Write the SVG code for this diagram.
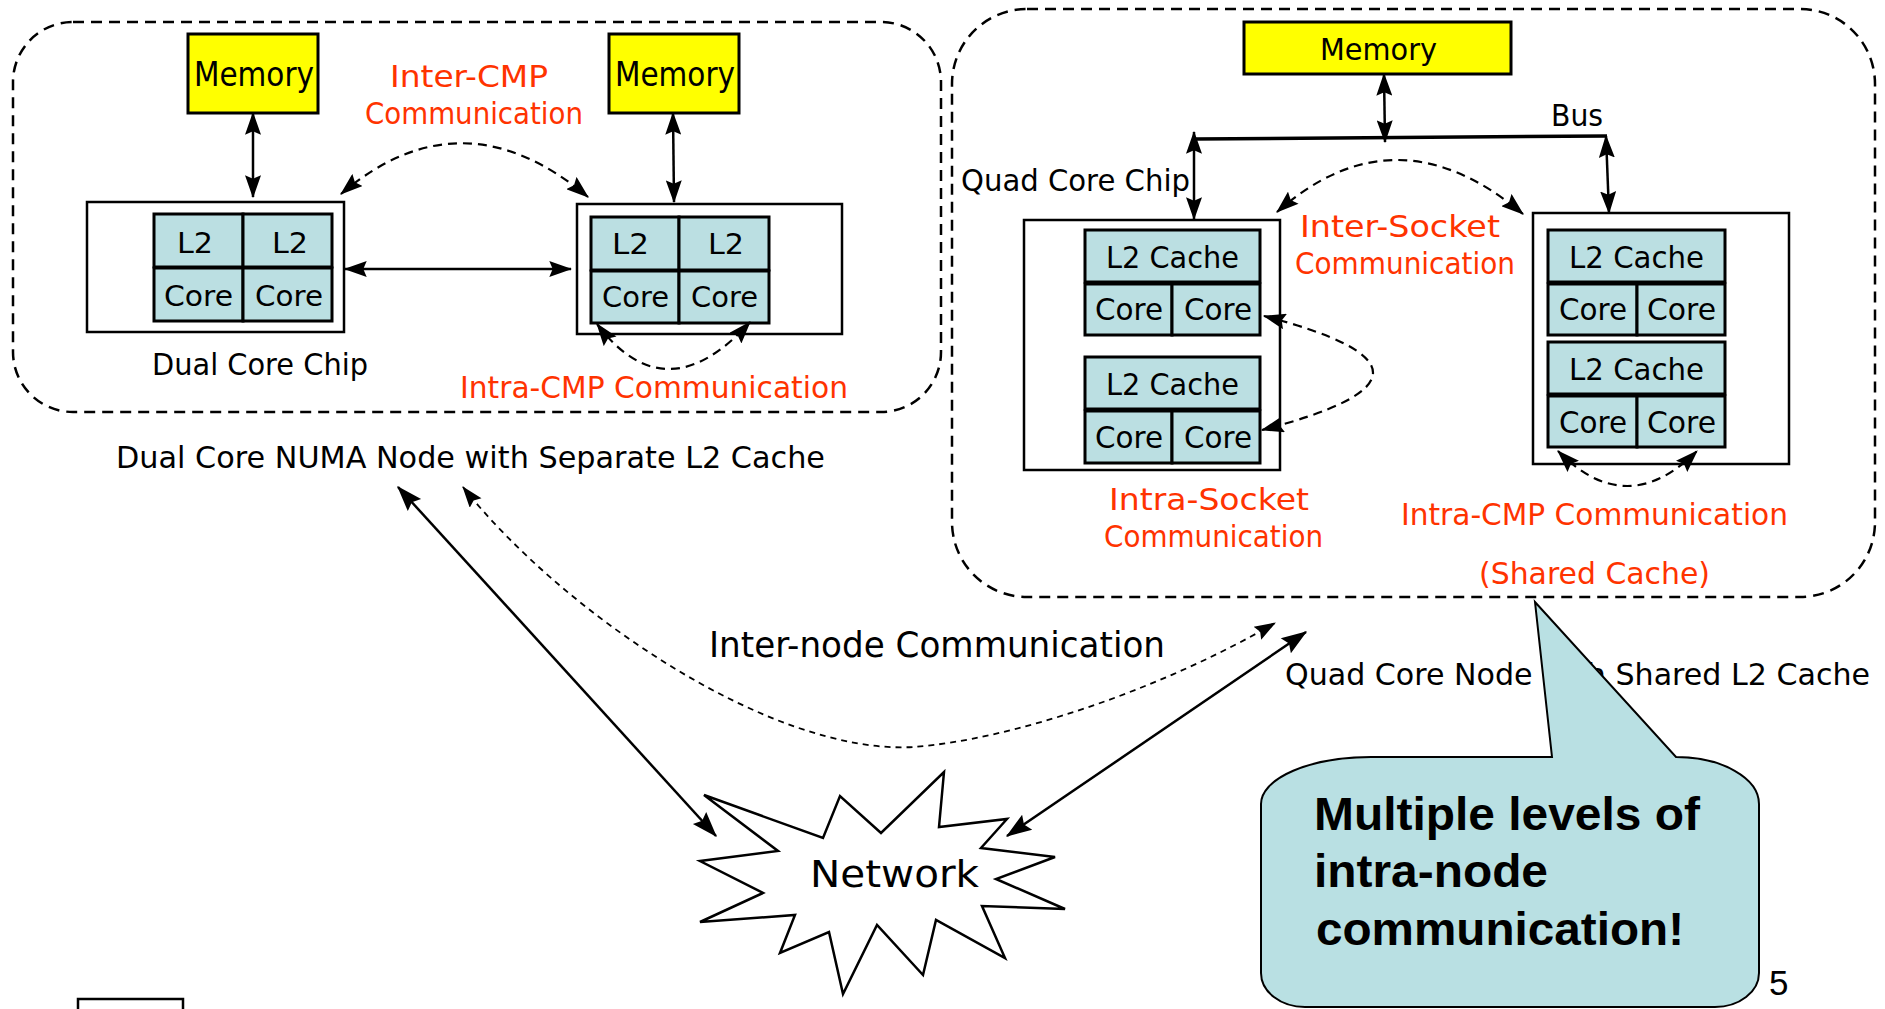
<svg xmlns="http://www.w3.org/2000/svg" width="1885" height="1009" viewBox="0 0 1885 1009">
  <defs>
    <style>
      .t { font-family: "DejaVu Sans", "Liberation Sans", sans-serif; fill: #000; }
      .red { fill: #FF3300; }
      .grp { fill: none; stroke: #000; stroke-width: 2.5; stroke-dasharray: 11 7; }
      .chip { fill: #fff; stroke: #000; stroke-width: 2.5; }
      .cell { fill: #BBDFE2; stroke: #000; stroke-width: 3; }
      .mem { fill: #FFFF00; stroke: #000; stroke-width: 3; }
      .solid { fill: none; stroke: #000; stroke-width: 2.5; }
      .dash { fill: none; stroke: #000; stroke-width: 2.2; stroke-dasharray: 9 6; }
      .thin { fill: none; stroke: #000; stroke-width: 1.8; stroke-dasharray: 6 5; }
      .bubble { fill: #B9E0E3; stroke: #000; stroke-width: 2; }
      .bold { font-family: "Liberation Sans", Arial, sans-serif; font-weight: bold; font-size: 47px; fill: #000; }
    </style>
    <marker id="ah" markerUnits="userSpaceOnUse" viewBox="0 0 20 14" markerWidth="23" markerHeight="16" refX="19" refY="7" orient="auto-start-reverse">
      <path d="M0,0 L20,7 L0,14 L3,7 Z" fill="#000"/>
    </marker>
    <marker id="ahL" markerUnits="userSpaceOnUse" viewBox="0 0 20 14" markerWidth="29" markerHeight="18" refX="19" refY="7" orient="auto-start-reverse">
      <path d="M0,0 L20,7 L0,14 L3,7 Z" fill="#000"/>
    </marker>
    <marker id="ahs" markerUnits="userSpaceOnUse" viewBox="0 0 20 14" markerWidth="23" markerHeight="15" refX="19" refY="7" orient="auto-start-reverse">
      <path d="M0,0 L20,7 L0,14 L3,7 Z" fill="#000"/>
    </marker>
  </defs>

  <rect width="1885" height="1009" fill="#fff"/>

  <!-- Dual core NUMA node (left) -->
  <g id="dual-node">
    <rect class="grp" x="13" y="22" width="928" height="390" rx="60" ry="60"/>
    <text class="t" x="152" y="375" font-size="30" textLength="216" lengthAdjust="spacingAndGlyphs">Dual Core Chip</text>
    <text class="t red" x="460" y="398" font-size="30" textLength="388" lengthAdjust="spacingAndGlyphs">Intra-CMP Communication</text>
    <text class="t red" x="390" y="87" font-size="30" textLength="158" lengthAdjust="spacingAndGlyphs">Inter-CMP</text>
    <text class="t red" x="365" y="124" font-size="31" textLength="218" lengthAdjust="spacingAndGlyphs">Communication</text>
  </g>
  <text class="t" x="116" y="468" font-size="30" textLength="709" lengthAdjust="spacingAndGlyphs">Dual Core NUMA Node with Separate L2 Cache</text>

  <g id="dual-mem-a">
    <rect class="mem" x="188" y="34" width="130" height="79"/>
    <text class="t" x="194" y="86" font-size="33" textLength="120" lengthAdjust="spacingAndGlyphs">Memory</text>
  </g>
  <g id="dual-mem-b">
    <rect class="mem" x="609" y="34" width="130" height="79"/>
    <text class="t" x="615" y="86" font-size="33" textLength="120" lengthAdjust="spacingAndGlyphs">Memory</text>
  </g>

  <g id="dual-chip-a">
    <rect class="chip" x="87" y="202" width="257" height="130"/>
    <rect class="cell" x="154" y="214" width="89" height="53"/>
    <rect class="cell" x="243" y="214" width="89" height="53"/>
    <rect class="cell" x="154" y="268" width="89" height="53"/>
    <rect class="cell" x="243" y="268" width="89" height="53"/>
    <text class="t" x="177" y="253" font-size="29" textLength="36" lengthAdjust="spacingAndGlyphs">L2</text>
    <text class="t" x="272" y="253" font-size="29" textLength="36" lengthAdjust="spacingAndGlyphs">L2</text>
    <text class="t" x="164" y="306" font-size="29" textLength="69" lengthAdjust="spacingAndGlyphs">Core</text>
    <text class="t" x="255" y="306" font-size="29" textLength="68" lengthAdjust="spacingAndGlyphs">Core</text>
  </g>
  <g id="dual-chip-b">
    <rect class="chip" x="577" y="204" width="265" height="130"/>
    <rect class="cell" x="591" y="217" width="88" height="53"/>
    <rect class="cell" x="679" y="217" width="90" height="53"/>
    <rect class="cell" x="591" y="271" width="88" height="52"/>
    <rect class="cell" x="679" y="271" width="90" height="52"/>
    <text class="t" x="612" y="254" font-size="29" textLength="37" lengthAdjust="spacingAndGlyphs">L2</text>
    <text class="t" x="708" y="254" font-size="29" textLength="36" lengthAdjust="spacingAndGlyphs">L2</text>
    <text class="t" x="602" y="307" font-size="29" textLength="67" lengthAdjust="spacingAndGlyphs">Core</text>
    <text class="t" x="691" y="307" font-size="29" textLength="67" lengthAdjust="spacingAndGlyphs">Core</text>
  </g>

  <!-- Quad core node (right) -->
  <g id="quad-node">
    <rect class="grp" x="952" y="9" width="923" height="588" rx="75" ry="75"/>
    <text class="t" x="1551" y="126" font-size="30" textLength="52" lengthAdjust="spacingAndGlyphs">Bus</text>
    <text class="t" x="961" y="191" font-size="30" textLength="229" lengthAdjust="spacingAndGlyphs">Quad Core Chip</text>
    <text class="t red" x="1300" y="237" font-size="30" textLength="200" lengthAdjust="spacingAndGlyphs">Inter-Socket</text>
    <text class="t red" x="1295" y="274" font-size="31" textLength="220" lengthAdjust="spacingAndGlyphs">Communication</text>
    <text class="t red" x="1109" y="510" font-size="30" textLength="200" lengthAdjust="spacingAndGlyphs">Intra-Socket</text>
    <text class="t red" x="1104" y="547" font-size="31" textLength="219" lengthAdjust="spacingAndGlyphs">Communication</text>
    <text class="t red" x="1401" y="525" font-size="30" textLength="387" lengthAdjust="spacingAndGlyphs">Intra-CMP Communication</text>
    <text class="t red" x="1479" y="584" font-size="30" textLength="231" lengthAdjust="spacingAndGlyphs">(Shared Cache)</text>
  </g>

  <g id="quad-mem">
    <rect class="mem" x="1244" y="22" width="267" height="52"/>
    <text class="t" x="1320" y="60" font-size="31" textLength="117" lengthAdjust="spacingAndGlyphs">Memory</text>
  </g>

  <g id="quad-chip-a">
    <rect class="chip" x="1024" y="220" width="256" height="250"/>
    <rect class="cell" x="1085" y="230" width="175" height="52"/>
    <rect class="cell" x="1085" y="284" width="87" height="51"/>
    <rect class="cell" x="1172" y="284" width="88" height="51"/>
    <rect class="cell" x="1085" y="357" width="175" height="52"/>
    <rect class="cell" x="1085" y="411" width="87" height="52"/>
    <rect class="cell" x="1172" y="411" width="88" height="52"/>
    <text class="t" x="1106" y="268" font-size="30" textLength="133" lengthAdjust="spacingAndGlyphs">L2 Cache</text>
    <text class="t" x="1095" y="320" font-size="30" textLength="68" lengthAdjust="spacingAndGlyphs">Core</text>
    <text class="t" x="1184" y="320" font-size="30" textLength="68" lengthAdjust="spacingAndGlyphs">Core</text>
    <text class="t" x="1106" y="395" font-size="30" textLength="133" lengthAdjust="spacingAndGlyphs">L2 Cache</text>
    <text class="t" x="1095" y="448" font-size="30" textLength="68" lengthAdjust="spacingAndGlyphs">Core</text>
    <text class="t" x="1184" y="448" font-size="30" textLength="68" lengthAdjust="spacingAndGlyphs">Core</text>
  </g>
  <g id="quad-chip-b">
    <rect class="chip" x="1533" y="213" width="256" height="251"/>
    <rect class="cell" x="1548" y="230" width="177" height="52"/>
    <rect class="cell" x="1548" y="284" width="89" height="51"/>
    <rect class="cell" x="1637" y="284" width="88" height="51"/>
    <rect class="cell" x="1548" y="342" width="177" height="52"/>
    <rect class="cell" x="1548" y="396" width="89" height="51"/>
    <rect class="cell" x="1637" y="396" width="88" height="51"/>
    <text class="t" x="1569" y="268" font-size="30" textLength="135" lengthAdjust="spacingAndGlyphs">L2 Cache</text>
    <text class="t" x="1559" y="320" font-size="30" textLength="68" lengthAdjust="spacingAndGlyphs">Core</text>
    <text class="t" x="1647" y="320" font-size="30" textLength="69" lengthAdjust="spacingAndGlyphs">Core</text>
    <text class="t" x="1569" y="380" font-size="30" textLength="135" lengthAdjust="spacingAndGlyphs">L2 Cache</text>
    <text class="t" x="1559" y="433" font-size="30" textLength="68" lengthAdjust="spacingAndGlyphs">Core</text>
    <text class="t" x="1647" y="433" font-size="30" textLength="69" lengthAdjust="spacingAndGlyphs">Core</text>
  </g>

  <g id="network">
    <polygon fill="#fff" stroke="#000" stroke-width="2.5" stroke-linejoin="miter"
      points="944,772 939,827 1007,819 981,848 1055,857 996,879 1065,909 982,906 1005,958 936,920 923,975 877,925 843,994 829,932 780,953 795,915 700,922 763,893 700,861 778,851 704,795 823,838 840,796 881,833"/>
    <text class="t" x="810" y="887" font-size="38" textLength="169" lengthAdjust="spacingAndGlyphs">Network</text>
  </g>

  <text class="t" x="709" y="657" font-size="36" textLength="456" lengthAdjust="spacingAndGlyphs">Inter-node Communication</text>
  <text class="t" x="1285" y="685" font-size="30" textLength="585" lengthAdjust="spacingAndGlyphs">Quad Core Node with Shared L2 Cache</text>

  <!-- Connectors -->
  <g id="connectors">
    <line class="solid" x1="253" y1="113" x2="253" y2="197" marker-start="url(#ah)" marker-end="url(#ah)"/>
    <line class="solid" x1="673" y1="113" x2="674" y2="202" marker-start="url(#ah)" marker-end="url(#ah)"/>
    <line class="solid" x1="345" y1="269" x2="571" y2="269" marker-start="url(#ah)" marker-end="url(#ah)"/>
    <path class="dash" d="M341,194 Q462,91 588,197" marker-start="url(#ah)" marker-end="url(#ah)"/>
    <path class="dash" d="M597,324 Q666,415 750,322" marker-start="url(#ah)" marker-end="url(#ah)"/>

    <line x1="1194" y1="139" x2="1607" y2="136" stroke="#000" stroke-width="3.5"/>
    <line class="solid" x1="1384" y1="74" x2="1385" y2="142" marker-start="url(#ah)" marker-end="url(#ah)"/>
    <line class="solid" x1="1194" y1="132" x2="1194" y2="219" marker-start="url(#ah)" marker-end="url(#ah)"/>
    <line class="solid" x1="1606" y1="136" x2="1609" y2="213" marker-start="url(#ah)" marker-end="url(#ah)"/>
    <path class="dash" d="M1277,212 Q1396,107 1523,214" marker-start="url(#ah)" marker-end="url(#ah)"/>
    <path class="dash" d="M1264,316 Q1483,373 1262,430" marker-start="url(#ah)" marker-end="url(#ah)"/>
    <path class="dash" d="M1558,451 Q1627,521 1697,451" marker-start="url(#ah)" marker-end="url(#ah)"/>

    <line class="solid" x1="398" y1="487" x2="716" y2="836" stroke-width="2.2" marker-start="url(#ahL)" marker-end="url(#ahL)"/>
    <line class="solid" x1="1007" y1="836" x2="1306" y2="632" stroke-width="2.2" marker-start="url(#ahL)" marker-end="url(#ahL)"/>
    <path class="thin" d="M463,487 C560,610 770,755 913,747 C1010,740 1160,690 1275,623" marker-start="url(#ahs)" marker-end="url(#ahs)"/>
  </g>

  <!-- Callout -->
  <g id="callout">
    <path class="bubble" d="M1261,804 A110,47 0 0 1 1371,757 L1552,757 L1535,602 L1676,757 A83,47 0 0 1 1759,804 L1759,973 A44,34 0 0 1 1715,1007 L1305,1007 A44,34 0 0 1 1261,973 Z"/>
    <text class="bold" x="1314" y="830" textLength="386" lengthAdjust="spacingAndGlyphs">Multiple levels of</text>
    <text class="bold" x="1314" y="887" textLength="234" lengthAdjust="spacingAndGlyphs">intra-node</text>
    <text class="bold" x="1316" y="945" textLength="368" lengthAdjust="spacingAndGlyphs">communication!</text>
  </g>

  <text x="1769" y="995" font-family="Liberation Sans, Arial, sans-serif" font-size="35" fill="#000">5</text>
  <rect x="78" y="999" width="105" height="20" fill="#fff" stroke="#000" stroke-width="2.5"/>
</svg>
